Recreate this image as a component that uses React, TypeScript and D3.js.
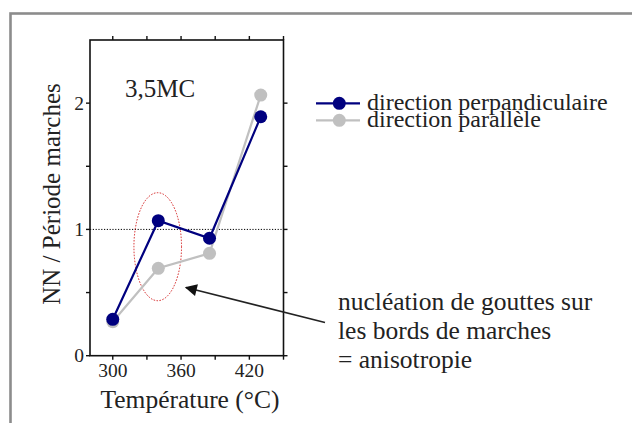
import React from "react";
import * as d3 from "d3";

const temperatures = [300, 340, 385, 430];
const perpValues = [0.288, 1.069, 0.93, 1.892];
const paraValues = [0.269, 0.692, 0.811, 2.064];
const xTicks = [300, 330, 360, 390, 420, 450];
const xTickLabels = [300, 360, 420];
const yTicks = [0, 0.5, 1, 1.5, 2];
const yTickLabels = [0, 1, 2];
const seriesNames = ["direction perpandiculaire", "direction parallèle"];
const annotationLines = ["nucléation de gouttes sur", "les bords de marches", "= anisotropie"];

const FONT = "Liberation Serif, DejaVu Serif, Times New Roman, serif";
const NAVY = "#00007f";
const GRAY = "#c0c0c0";

const T = (props: any) => <text {...props} style={{ fontFamily: FONT }} />;

export default function App() {
  const left = 90, right = 283.5, top = 40, bottom = 355.7;
  const x = d3.scaleLinear().domain([280, 450]).range([left, right]);
  const y = d3.scaleLinear().domain([0, 2.5]).range([bottom, top]);
  const line = d3.line<number>().x((_, i) => x(temperatures[i])).y((v) => y(v));

  const series = [
    { name: seriesNames[1], values: paraValues, color: GRAY },
    { name: seriesNames[0], values: perpValues, color: NAVY },
  ];

  const ex = x(339.5), ey = 246.7;
  return (
    <svg width={632} height={423} style={{ position: "absolute", left: 0, top: 0 }}>
      <rect x={0} y={0} width={632} height={423} fill="#fff" />
      <rect x={10.5} y={13.5} width={660} height={460} fill="none" stroke="#8c8c8c" strokeWidth={2.6} />
      <line x1={left} x2={right} y1={y(1)} y2={y(1)} stroke="#000" strokeWidth={1} strokeDasharray="1.2,1.6" />
      <rect x={left} y={top} width={right - left} height={bottom - top} fill="none" stroke="#111" strokeWidth={1.6} />
      {xTicks.map((t) => (
        <g key={"xt" + t}>
          <line x1={x(t)} x2={x(t)} y1={bottom} y2={bottom + 4} stroke="#111" strokeWidth={1.4} />
          <line x1={x(t)} x2={x(t)} y1={top} y2={top - 4} stroke="#111" strokeWidth={1.4} />
        </g>
      ))}
      {yTicks.map((t) => (
        <g key={"yt" + t}>
          <line x1={left} x2={left - 4} y1={y(t)} y2={y(t)} stroke="#111" strokeWidth={1.4} />
          <line x1={right} x2={right + 4} y1={y(t)} y2={y(t)} stroke="#111" strokeWidth={1.4} />
        </g>
      ))}
      {xTickLabels.map((t) => (
        <T key={"xl" + t} x={x(t)} y={377} fontSize={19.5} textAnchor="middle" fill="#222">{t}</T>
      ))}
      {yTickLabels.map((t) => (
        <T key={"yl" + t} x={84} y={y(t) + 6.5} fontSize={19.5} textAnchor="end" fill="#222">{t}</T>
      ))}
      <T x={190} y={408} fontSize={25.5} textAnchor="middle" fill="#222">Température (°C)</T>
      <T transform={`translate(60,194) rotate(-90)`} fontSize={25} textAnchor="middle" fill="#222">NN / Période marches</T>
      <T x={125} y={97} fontSize={25} fill="#222">3,5MC</T>

      <ellipse cx={ex} cy={ey} rx={23.8} ry={54} fill="none" stroke="#d42020" strokeWidth={1} strokeDasharray="1.5,1.5" />

      {series.map((s) => (
        <g key={s.name}>
          <path d={line(s.values) || ""} fill="none" stroke={s.color} strokeWidth={2.2} />
          {s.values.map((v, i) => (
            <circle key={i} cx={x(temperatures[i])} cy={y(v)} r={6.5} fill={s.color} />
          ))}
        </g>
      ))}

      <defs>
        <marker id="ah" viewBox="0 0 10 10" refX={9} refY={5} markerWidth={14} markerHeight={12} markerUnits="userSpaceOnUse" orient="auto">
          <path d="M0,0 L10,5 L0,10 z" fill="#111" />
        </marker>
      </defs>
      <line x1={325} y1={322.5} x2={186} y2={287.5} stroke="#222" strokeWidth={1.5} markerEnd="url(#ah)" />

      {[seriesNames[0], seriesNames[1]].map((n, i) => {
        const c = i === 0 ? NAVY : GRAY;
        const ly = 103.3 + i * 17;
        return (
          <g key={"lg" + i}>
            <line x1={316} x2={360} y1={ly} y2={ly} stroke={c} strokeWidth={2.2} />
            <circle cx={339.3} cy={ly} r={6.5} fill={c} />
            <T x={367} y={ly + 6.5} fontSize={24} fill="#222">{n}</T>
          </g>
        );
      })}

      {annotationLines.map((t, i) => (
        <T key={"an" + i} x={338} y={310 + i * 29} fontSize={25.5} fill="#222">{t}</T>
      ))}
    </svg>
  );
}
